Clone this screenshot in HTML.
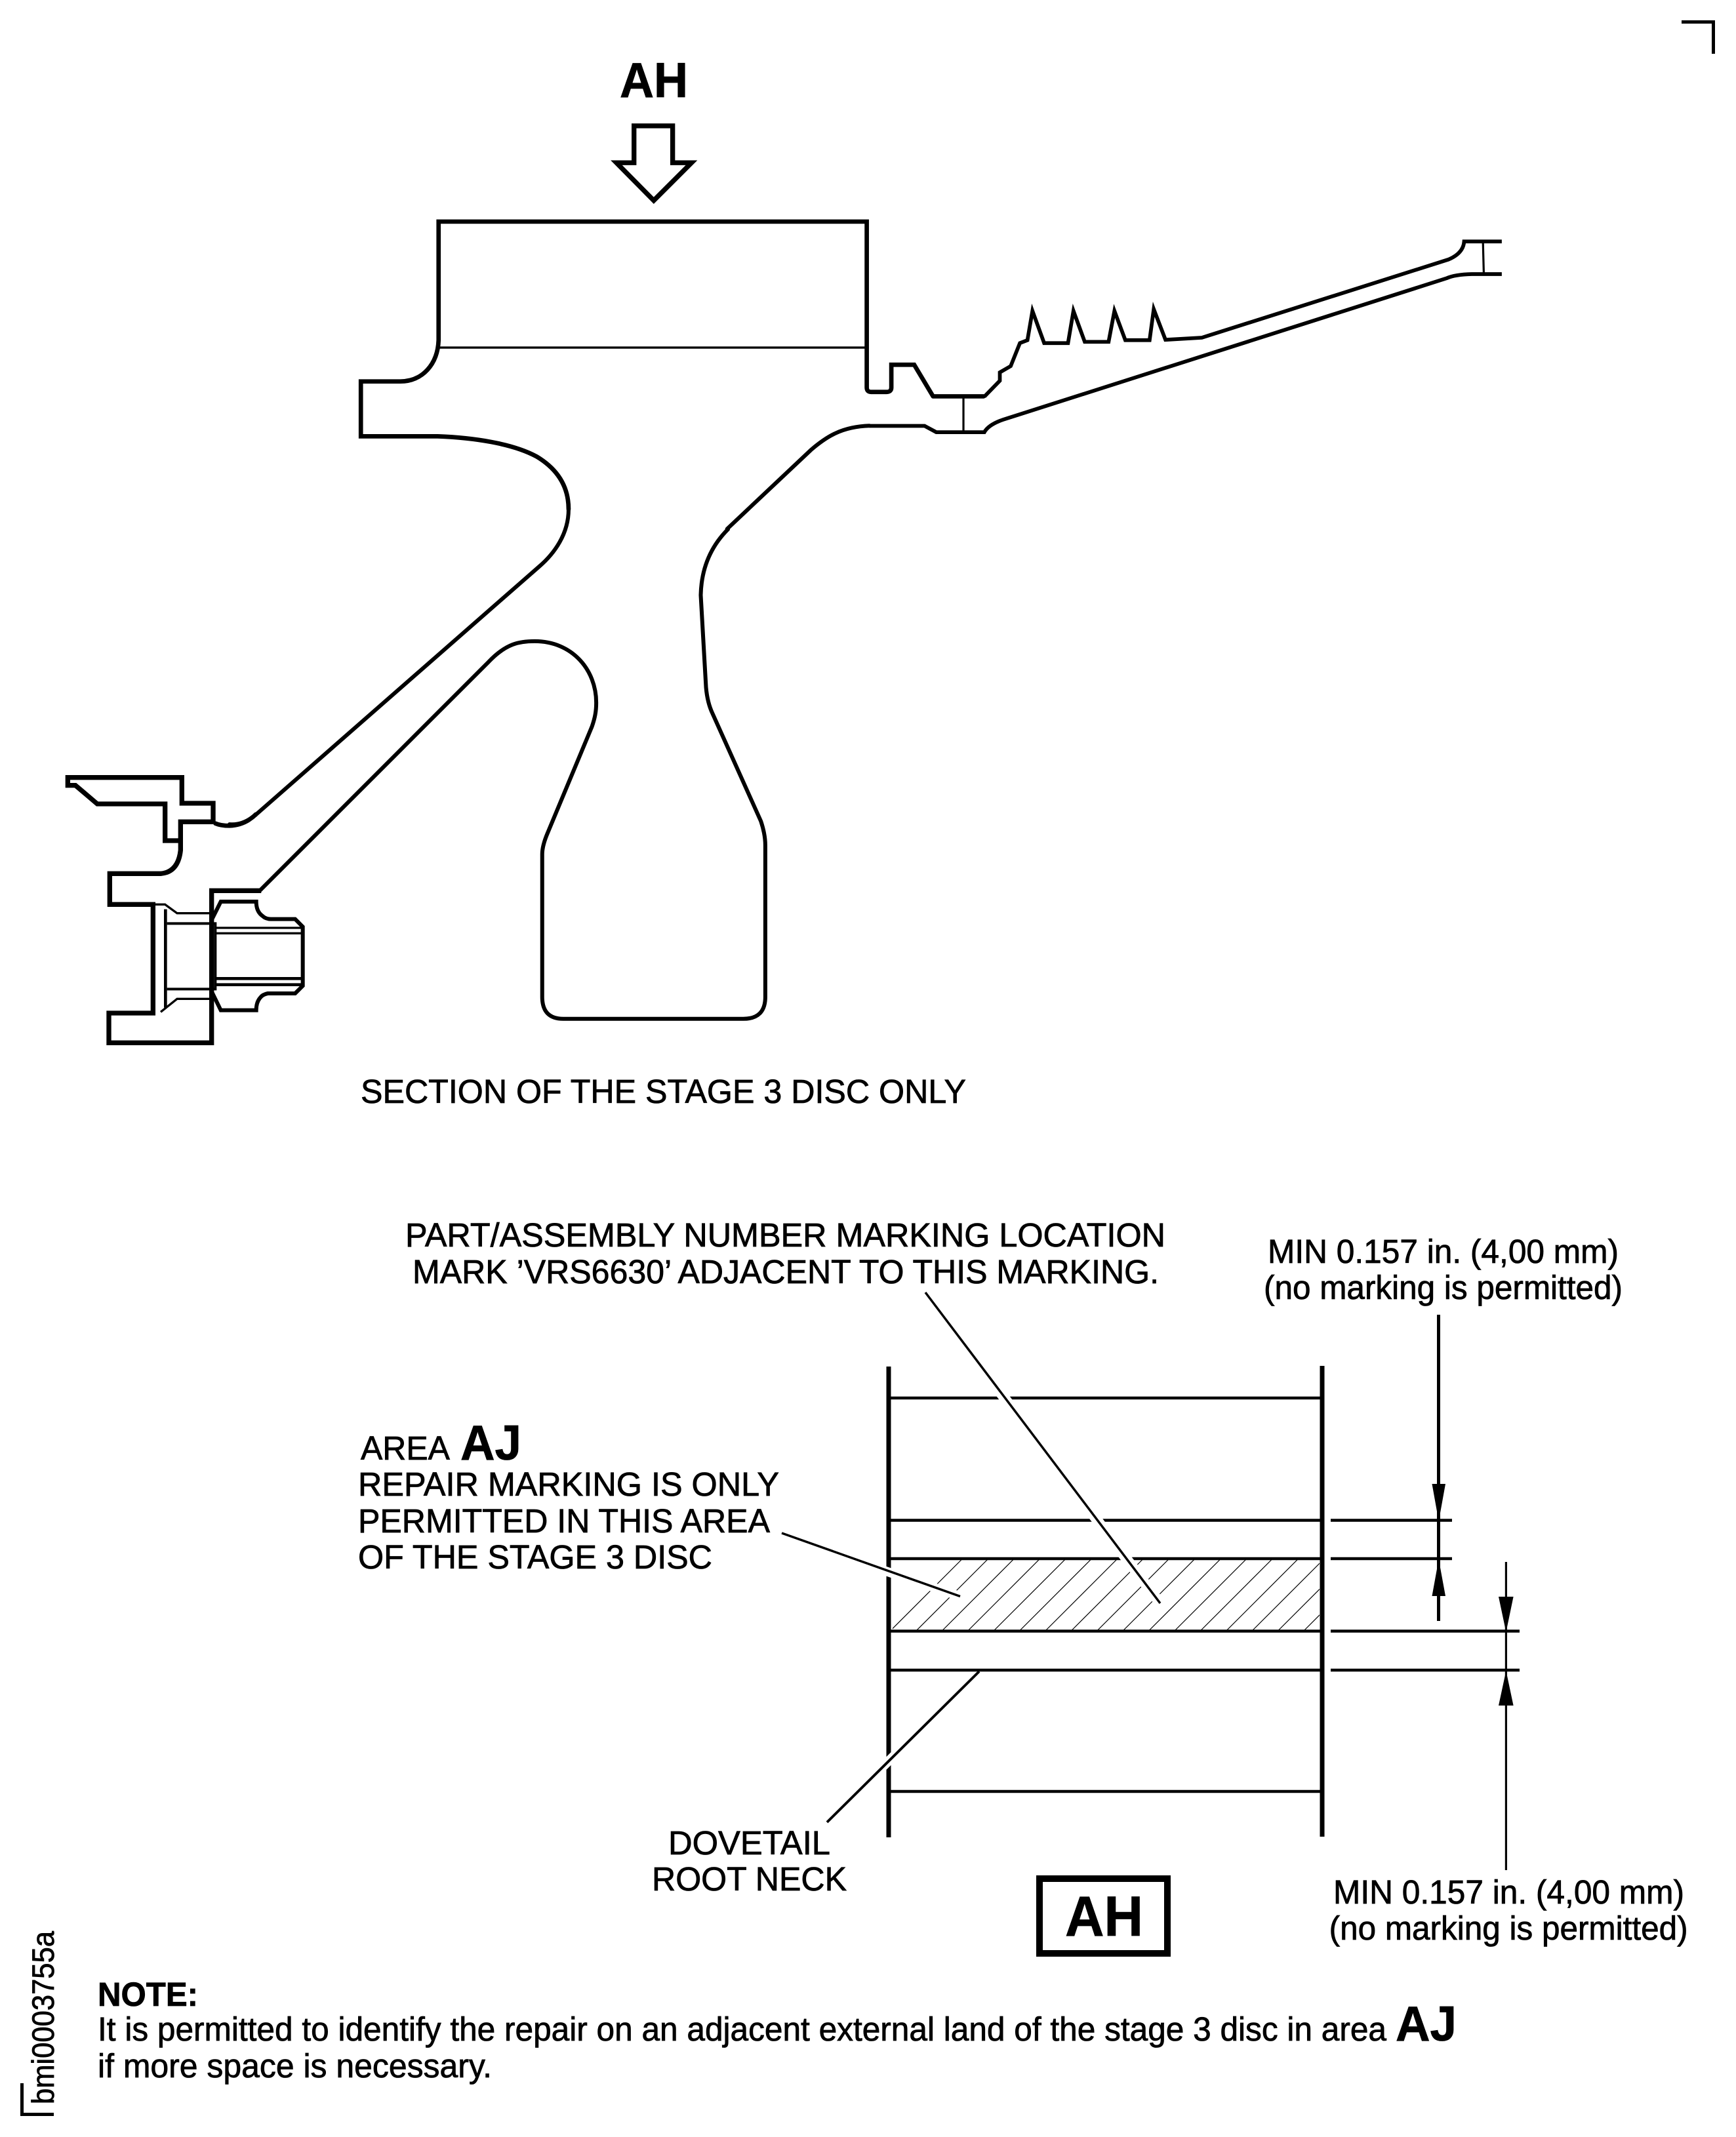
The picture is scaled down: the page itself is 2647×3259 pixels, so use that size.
<!DOCTYPE html>
<html><head><meta charset="utf-8"><style>
html,body{margin:0;padding:0;background:#fff}
svg{display:block}
text{font-family:"Liberation Sans",Arial,sans-serif;fill:#000;font-size:51px;stroke:#000;stroke-width:.8px}
.b{font-weight:bold}
.p{fill:none;stroke:#000;stroke-linejoin:miter;stroke-linecap:butt;stroke-miterlimit:10}
.r{stroke-linecap:round}
</style></head><body>
<svg xmlns="http://www.w3.org/2000/svg" width="2647" height="3259" viewBox="0 0 2647 3259">
<rect width="2647" height="3259" fill="#fff"/>

<!-- corner marks -->
<path class="p" stroke-width="5" d="M2564,33.5H2612.5V82"/>
<path class="p" stroke-width="5" d="M33.5,3177V3224.5H82"/>

<!-- top part (zoom 4 space) -->
<g transform="translate(500,50) scale(.6696)">
<path class="p" stroke-width="11" d="M697,296V212H785V296H828L742,382L657,296Z"/>
<path class="p r" stroke-width="10" d="M1378,828H1493 M1378,828L1335,756H1283V808Q1283,818 1272,818H1237Q1227,818 1227,808V430H252V700C250,755 215,794 165,794H75V919H250C330,922 420,935 475,965C525,995 548,1035 548,1085"/>
<path class="p" stroke-width="5" d="M252,717H1227"/>
<path class="p r" stroke-width="9" d="M1233,895C1170,897 1135,920 1100,950L909,1130"/>
</g>
<text class="b" x="945" y="148" style="font-size:75px" textLength="104" lengthAdjust="spacingAndGlyphs">AH</text>

<!-- middle part (zoom 5 space) -->
<g transform="translate(350,700) scale(.6696)">
<path class="p r" stroke-width="9" d="M772,115C772,170 740,215 705,245L60,810Q30,835 0,832"/>
<path class="p r" stroke-width="9" d="M70,982L590,462C630,420 660,415 695,415C780,415 835,480 835,555C835,575 832,590 825,610L725,850Q712,880 712,900V1225Q712,1275 760,1275H1170Q1220,1275 1220,1225V880Q1220,855 1210,825L1100,580Q1088,555 1085,520L1073,310Q1075,220 1135,160"/>
</g>

<!-- right arm (zoom 7 space) -->
<g transform="translate(1300,300) scale(.6378)">
<path class="p" stroke-width="9" d="M315,478L352,440V420L378,405L400,350L418,343L430,273L458,350H515L528,273L555,347H612L626,273L652,343H710L720,269L748,342L835,337L1425,150Q1460,135 1462,107H1552"/>
<path class="p" stroke-width="9" d="M40,548H172L200,563H315Q325,545 360,533L1420,195Q1440,186 1480,185H1552"/>
<path class="p" stroke-width="5" d="M265,478V563M1507,107L1509,185"/>
</g>

<!-- lower-left fixture (zoom 1 space) -->
<g transform="translate(0,1100) scale(.33333)">
<path class="p r" stroke-width="20" d="M1170,426Q1120,475 1050,478Q1010,478 985,467"/>
<path class="p" stroke-width="22" d="M975,465V375H832V257H310V293H345L445,378H755V546H825"/>
<path class="p" stroke-width="22" d="M975,460H826V590Q815,690 735,697H502V838H700V1335H498V1471H968V775H1195"/>
<path class="p" stroke-width="10" d="M700,838H755L810,878H968M735,1330L810,1270H968"/>
<path class="p" stroke-width="14" d="M757,860V1310"/>
<path class="p" stroke-width="12" d="M764,925H985V1225H764"/>
<path class="p" stroke-width="18" d="M970,905L1010,825H1172Q1172,870 1200,890Q1215,905 1240,905H1350L1385,940V1210L1350,1245H1225Q1200,1250 1190,1265Q1172,1285 1172,1322H1010L970,1240"/>
<path class="p" stroke-width="10" d="M990,945H1385M990,970H1385"/>
<path class="p" stroke-width="14" d="M990,1177H1385M990,1205H1385"/>
</g>

<text x="550" y="1682" textLength="923" lengthAdjust="spacingAndGlyphs">SECTION OF THE STAGE 3 DISC ONLY</text>

<!-- lower diagram -->
<clipPath id="c"><rect x="1361" y="2377" width="651" height="111"/></clipPath>
<path clip-path="url(#c)" class="p" stroke-width="1.2" d="M1356.6,2488l111,-111M1396,2488l111,-111M1435.4,2488l111,-111M1474.8,2488l111,-111M1514.2,2488l111,-111M1553.6,2488l111,-111M1593,2488l111,-111M1632.4,2488l111,-111M1671.8,2488l111,-111M1711.2,2488l111,-111M1750.6,2488l111,-111M1790,2488l111,-111M1829.4,2488l111,-111M1868.8,2488l111,-111M1908.2,2488l111,-111M1947.6,2488l111,-111M1987,2488l111,-111"/>
<path class="p" stroke-width="4.5" d="M1358,2132H2014M1358,2318.5H2014M1358,2377H2014M1358,2487.5H2014M1358,2547H2014M1358,2732H2014"/>
<path class="p" stroke-width="4.5" d="M2029,2318.5H2214M2029,2377H2214M2029,2487.5H2317M2029,2547H2317"/>
<path class="p" stroke-width="7" d="M1355,2084V2802M2016,2083V2801"/>

<!-- leaders with halos -->
<path fill="none" stroke="#fff" stroke-width="16" d="M1442,2014L1769,2445"/>
<path fill="none" stroke="#fff" stroke-width="14" d="M1330,2389L1464,2434.5"/>
<path fill="none" stroke="#fff" stroke-width="14" d="M1400,2641L1300,2740"/>
<path class="p" stroke-width="3.5" d="M1411,1971L1769,2445"/>
<path class="p" stroke-width="3.5" d="M1192,2338L1464,2434.5"/>
<path class="p" stroke-width="4" d="M1493,2549L1261,2779"/>

<!-- dimensions -->
<path class="p" stroke-width="5" d="M2193.5,2005V2472"/>
<path d="M2183.5,2263H2204L2193.7,2320Z M2183.5,2434H2204L2193.7,2378Z" fill="#000"/>
<path class="p" stroke-width="3.2" d="M2296.4,2382V2852"/>
<path d="M2285,2435H2307.6L2296.4,2489Z M2285,2601H2307.6L2296.4,2548Z" fill="#000"/>

<rect x="1585" y="2865" width="195" height="114" fill="none" stroke="#000" stroke-width="10"/>
<text class="b" x="1624" y="2952" style="font-size:86px" textLength="119" lengthAdjust="spacingAndGlyphs">AH</text>

<text x="618" y="1901" textLength="1159" lengthAdjust="spacingAndGlyphs">PART/ASSEMBLY NUMBER MARKING LOCATION</text>
<text x="629" y="1957" textLength="1138" lengthAdjust="spacingAndGlyphs">MARK ’VRS6630’ ADJACENT TO THIS MARKING.</text>
<text x="1933" y="1926" textLength="535" lengthAdjust="spacingAndGlyphs">MIN 0.157 in. (4,00 mm)</text>
<text x="1927" y="1981" textLength="547" lengthAdjust="spacingAndGlyphs">(no marking is permitted)</text>
<text x="550" y="2226" textLength="136" lengthAdjust="spacingAndGlyphs">AREA</text>
<text class="b" x="702" y="2226" style="font-size:75px" textLength="93" lengthAdjust="spacingAndGlyphs">AJ</text>
<text x="546" y="2281" textLength="642" lengthAdjust="spacingAndGlyphs">REPAIR MARKING IS ONLY</text>
<text x="546" y="2337" textLength="628" lengthAdjust="spacingAndGlyphs">PERMITTED IN THIS AREA</text>
<text x="546" y="2392" textLength="540" lengthAdjust="spacingAndGlyphs">OF THE STAGE 3 DISC</text>
<text x="1019" y="2828" textLength="247" lengthAdjust="spacingAndGlyphs">DOVETAIL</text>
<text x="994" y="2883" textLength="297" lengthAdjust="spacingAndGlyphs">ROOT NECK</text>
<text x="2033" y="2903" textLength="535" lengthAdjust="spacingAndGlyphs">MIN 0.157 in. (4,00 mm)</text>
<text x="2026.6" y="2958" textLength="547" lengthAdjust="spacingAndGlyphs">(no marking is permitted)</text>

<text class="b" x="149" y="3059" textLength="153" lengthAdjust="spacingAndGlyphs">NOTE:</text>
<text x="149" y="3112" textLength="1965" lengthAdjust="spacingAndGlyphs">It is permitted to identify the repair on an adjacent external land of the stage 3 disc in area</text>
<text class="b" x="2128" y="3112" style="font-size:75px" textLength="93" lengthAdjust="spacingAndGlyphs">AJ</text>
<text x="149" y="3168" textLength="601" lengthAdjust="spacingAndGlyphs">if more space is necessary.</text>

<text transform="translate(82,3209) rotate(-90)" style="font-size:47px" textLength="264" lengthAdjust="spacingAndGlyphs">bmi0003755a</text>
</svg>
</body></html>
